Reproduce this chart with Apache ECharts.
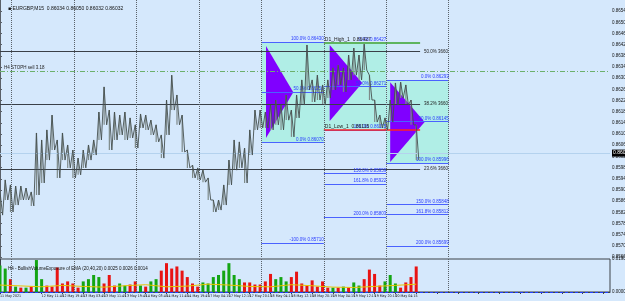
<!DOCTYPE html>
<html>
<head>
<meta charset="utf-8">
<script src="https://cdn.jsdelivr.net/npm/echarts@6/dist/echarts.min.js"></script>
<style>
html, body { margin: 0; padding: 0; background: #d5e8fc; }
#chart { width: 625px; height: 301px; }
</style>
</head>
<body>
<div id="chart"></div>
<script>
// price, one high/low pair every 8 bars (M15), bar index = sample * 8
const barStep = 8
const highs = [0.85893,0.85936,0.85918,0.85914,0.85914,0.85907,0.85893,0.86104,0.86079,0.86115,
    0.86168,0.86079,0.86104,0.86061,0.86043,0.86014,0.86043,0.86061,0.86079,0.86179,
    0.86269,0.86186,0.86179,0.86168,0.86179,0.86158,0.86133,0.86172,0.86168,0.86150,
    0.86133,0.86097,0.86222,0.86311,0.86240,0.86168,0.86043,0.85989,0.85979,0.85971,
    0.85943,0.85864,0.85864,0.85918,0.86007,0.86079,0.86072,0.86050,0.86115,0.86186,
    0.86186,0.86179,0.86204,0.86222,0.86204,0.86240,0.86186,0.86240,0.86294,0.86419,
    0.86294,0.86311,0.86276,0.86294,0.86337,0.86347,0.86337,0.86383,0.86408,0.86383,
    0.86422,0.86311,0.86222,0.86168,0.86158,0.86222,0.86283,0.86286,0.86276,0.86222,
    0.86133]
const lows = [0.85810,0.85864,0.85821,0.85846,0.85864,0.85864,0.85843,0.85882,0.85925,0.86007,
    0.86043,0.85943,0.86007,0.85979,0.85943,0.85954,0.85979,0.86007,0.86025,0.86079,
    0.86133,0.86043,0.86079,0.86097,0.86079,0.86086,0.86050,0.86122,0.86115,0.86097,
    0.86072,0.86014,0.86097,0.86186,0.86133,0.86036,0.85979,0.85943,0.85936,0.85928,
    0.85864,0.85821,0.85828,0.85846,0.85918,0.85971,0.85979,0.85925,0.86025,0.86115,
    0.86122,0.86122,0.86115,0.86133,0.86115,0.86150,0.86090,0.86158,0.86204,0.86258,
    0.86215,0.86222,0.86204,0.86229,0.86258,0.86276,0.86251,0.86294,0.86311,0.86294,
    0.86329,0.86222,0.86143,0.86122,0.86115,0.86143,0.86204,0.86229,0.86204,0.86133,
    0.86007]
const lastPrice = 0.86032

// sub window: signed exposure (+ buy / - sell), same sampling as price
const flow = [0.0153,0.0135,-0.0074,0.0031,-0.0025,0.0025,-0.0031,0.0184,0.0074,-0.0037,
    -0.0031,-0.0141,-0.0049,-0.0061,-0.0049,-0.0025,0.0061,0.0074,0.0098,0.0086,
    -0.0049,-0.0098,-0.0037,0.0049,0.0037,-0.0043,-0.0061,0.0037,-0.0031,0.0061,
    0.0074,-0.0123,-0.0166,-0.0135,-0.0147,-0.0123,-0.0086,-0.0049,-0.0031,0.0055,
    0.0049,0.0086,0.0098,0.0123,0.0166,0.0098,0.0074,-0.0055,-0.0055,-0.0043,
    -0.0043,-0.0061,-0.0104,0.0074,0.0086,0.0061,-0.0086,-0.0117,-0.0049,-0.0037,
    -0.0067,-0.0031,-0.0061,-0.0025,0.0025,-0.0025,0.0031,-0.0025,0.0055,0.0037,
    -0.0074,-0.0129,-0.0104,-0.0037,0.0061,0.0098,0.0049,-0.0025,-0.0055,-0.0086,
    -0.0147]
const signal = [0.0040,0.0035,0.0030,0.0038,0.0032,0.0028,0.0036,0.0042,0.0030,0.0034,
    0.0045,0.0040,0.0032,0.0030,0.0042,0.0036,0.0028,0.0026,0.0032,0.0038,0.0045]
const signalStep = 32
const exposureLevel = 0.0025

// time axis, a label every 32 bars
const timeLabels = ['11 May 2021','12 May 03:45','12 May 11:45','12 May 19:45','13 May 03:45',
    '13 May 11:45','13 May 19:45','14 May 03:45','14 May 11:45','14 May 19:45','17 May 04:15',
    '17 May 12:15','17 May 20:15','18 May 04:15','18 May 12:15','18 May 20:15','19 May 04:15',
    '19 May 12:15','19 May 20:15','20 May 04:15']
const daySeparators = [18, 114, 210, 306, 402, 498, 594, 690]

// drawn objects: boxes [x0, top, x1, bottom], triangles [x, top, bottom, apexX, apexY]
const boxes = [[402, 0.86430, 498, 0.86070], [498, 0.86427, 594, 0.86115], [594, 0.86293, 690, 0.85996]]
const triangles = [[409, 0.86415, 0.86086, 451, 0.86250], [507, 0.86419, 0.86147, 557, 0.86283],
    [600, 0.86286, 0.86000, 653, 0.86143]]
const fibA = [0.86430, 0.86250, 0.86070, 0.85710]
const fibAPct = ['100.0%', '50.0%', '0.0%', '-100.0%']
const fibB = [0.86427, 0.86271, 0.86115, 0.85959, 0.85922, 0.85803]
const fibBPct = ['0.0%', '50.0%', '100.0%', '150.0%', '161.8%', '200.0%']
const fibC = [0.86293, 0.86145, 0.85996, 0.85848, 0.85812, 0.85699]
const fibCPct = ['0.0%', '50.0%', '100.0%', '150.0%', '161.8%', '200.0%']
const bigFib = [0.86583, 0.86395, 0.86207, 0.85975]
const bigFibText = ['61.8% 3660', '50.0% 3660', '38.2% 3660', '23.6% 3660']
const d1High = 0.86427
const d1Low = 0.86115
const stopLevel = 0.86326

const font = 'Liberation Sans'
const chart = echarts.init(document.getElementById('chart'))

const priceLine = []
highs.forEach((h, i) => {
    priceLine.push([i * barStep, h])
    priceLine.push([i * barStep + barStep / 2, lows[i]])
})
const priceRanges = highs.map((h, i) => [i * barStep, h, lows[i]])

const seg = (x0, x1, y, color, width, label, type) => [
    { coord: [x0, y], lineStyle: { color: color, width: width, type: type || 'solid' }, label: label || { show: false } },
    { coord: [x1, y] }
]
const blueLabel = (text) => ({
    show: true, formatter: text, position: 'insideEndTop', distance: [0, 0.5],
    color: '#2a3cff', fontSize: 4.5, fontFamily: font
})

const levelLines = []
const addFib = (x0, x1, prices, pcts) => prices.forEach((p, i) => {
    levelLines.push(seg(x0, x1, p, '#4a62ff', 1, blueLabel(pcts[i] + ' ' + p.toFixed(5))))
})
addFib(402, 498, fibA, fibAPct)
addFib(498, 594, fibB, fibBPct)
addFib(594, 690, fibC, fibCPct)
bigFib.forEach((p, i) => {
    levelLines.push(seg(0, 646, p, '#3a4048', 1, {
        show: true, formatter: bigFibText[i], position: 'end', distance: 4,
        color: '#222', fontSize: 4.5, fontFamily: font
    }))
})
levelLines.push(seg(498, 646, d1High, '#5fb55f', 2, {
    show: true, formatter: 'D1_High_1  0.86427', position: 'insideStartTop', distance: [1, 1],
    color: '#222', fontSize: 5, fontFamily: font
}))
levelLines.push(seg(498, 646, d1Low, '#ff2222', 1.5, {
    show: true, formatter: 'D1_Low_1  0.86115', position: 'insideStartTop', distance: [1, 1],
    color: '#222', fontSize: 5, fontFamily: font
}))
levelLines.push(seg(0, 938, stopLevel, '#6cb06c', 1, {
    show: true, formatter: 'H4 STOPH sell 3.18', position: 'insideStartTop', distance: [4, 1],
    color: '#222', fontSize: 4.5, fontFamily: font
}, [5, 2, 1, 2]))
levelLines.push(seg(0, 938, lastPrice, '#b4d2ee', 1, {
    show: true, formatter: lastPrice.toFixed(5), position: 'end', distance: 2,
    color: '#fff', backgroundColor: '#000', padding: [1, 1], fontSize: 5, fontFamily: font
}))

const sepLines = (color) => daySeparators.map(x => ({ xAxis: x, lineStyle: { color: color, type: [1, 1], width: 1 } }))

const option = {
    animation: false,
    backgroundColor: '#d5e8fc',
    title: [
        { text: '■ EURGBP,M15  0.86034 0.86050 0.86032 0.86032', left: 3, top: 1,
          textStyle: { fontSize: 5, fontWeight: 'normal', color: '#111', fontFamily: font } },
        { text: 'H4 - BullishVolumeExposure of EMA (20,40,20) 0.0025 0.0026 0.0014', left: 3, top: 261,
          textStyle: { fontSize: 4.5, fontWeight: 'normal', color: '#111', fontFamily: font } }
    ],
    grid: [
        { left: 0, right: 15, top: 0, bottom: 44, outerBoundsMode: 'none', containLabel: false },
        { left: 0, right: 15, top: 259, bottom: 9, show: true, borderColor: '#3c4248', borderWidth: 1,
          outerBoundsMode: 'none', containLabel: false }
    ],
    xAxis: [
        { type: 'value', gridIndex: 0, min: 0, max: 938, show: false },
        { type: 'value', gridIndex: 1, min: 0, max: 938, interval: 32,
          axisLine: { show: true, lineStyle: { color: '#3c4248' } },
          axisTick: { show: true, length: 2, lineStyle: { color: '#3c4248' } },
          splitLine: { show: false },
          axisLabel: { show: true, showMinLabel: true, showMaxLabel: false, hideOverlap: false, align: 'left', margin: 2,
              fontSize: 3.6, color: '#111', fontFamily: 'DejaVu Sans Condensed',
              formatter: (v) => timeLabels[Math.round(v / 32)] || '' } }
    ],
    yAxis: [
        { type: 'value', gridIndex: 0, position: 'right', min: 0.8566, max: 0.8658, interval: 0.0004,
          axisLine: { show: true, lineStyle: { color: '#5a6068' } },
          axisTick: { show: true, length: 2, lineStyle: { color: '#5a6068' } },
          splitLine: { show: false },
          axisLabel: { showMaxLabel: false, margin: 2, fontSize: 4.5, color: '#111', fontFamily: font,
              formatter: (v) => v.toFixed(5) } },
        { type: 'value', gridIndex: 1, position: 'right', min: 0, max: 0.019, interval: 0.019,
          axisLine: { show: true, lineStyle: { color: '#3c4248' } },
          axisTick: { show: false }, splitLine: { show: false },
          axisLabel: { margin: 2, fontSize: 4.5, color: '#111', fontFamily: font,
              formatter: (v) => v.toFixed(4) } }
    ],
    series: [
        {
            name: 'boxes', type: 'custom', xAxisIndex: 0, yAxisIndex: 0, z: 1, silent: true,
            data: boxes, encode: { x: [0, 2], y: [1, 3] },
            renderItem: (params, api) => {
                const p0 = api.coord([api.value(0), api.value(1)])
                const p1 = api.coord([api.value(2), api.value(3)])
                return { type: 'rect', shape: { x: p0[0], y: p0[1], width: p1[0] - p0[0], height: p1[1] - p0[1] },
                    style: { fill: '#b0eee6' } }
            }
        },
        {
            name: 'triangles', type: 'custom', xAxisIndex: 0, yAxisIndex: 0, z: 2, silent: true,
            data: triangles, encode: { x: [0, 3], y: [1, 2, 4] },
            renderItem: (params, api) => {
                const a = api.coord([api.value(0), api.value(1)])
                const b = api.coord([api.value(3), api.value(4)])
                const c = api.coord([api.value(0), api.value(2)])
                return { type: 'polygon', shape: { points: [a, b, c] }, style: { fill: '#8000ff' } }
            }
        },
        {
            name: 'levels', type: 'line', xAxisIndex: 0, yAxisIndex: 0, data: [], z: 3,
            markLine: { silent: true, symbol: 'none', animation: false, data: levelLines }
        },
        {
            name: 'ranges', type: 'custom', xAxisIndex: 0, yAxisIndex: 0, z: 4, silent: true,
            data: priceRanges, encode: { x: 0, y: [1, 2] },
            renderItem: (params, api) => {
                const top = api.coord([api.value(0), api.value(1)])
                const bot = api.coord([api.value(0), api.value(2)])
                return { type: 'rect', shape: { x: top[0] - 0.5, y: top[1], width: 1.2, height: bot[1] - top[1] },
                    style: { fill: '#7e8a89' } }
            }
        },
        {
            name: 'EURGBP', type: 'line', xAxisIndex: 0, yAxisIndex: 0, z: 5,
            data: priceLine, symbol: 'none', lineStyle: { color: '#46504f', width: 0.9 },
            markLine: { silent: true, symbol: 'none', animation: false, label: { show: false }, data: sepLines('#5a626a') }
        },
        {
            name: 'buy', type: 'bar', xAxisIndex: 1, yAxisIndex: 1, barWidth: 3, barGap: '-100%',
            data: flow.map((v, i) => [i * barStep, v > 0 ? v : 0]),
            itemStyle: { color: '#14a514' },
            markLine: { silent: true, symbol: 'none', animation: false, label: { show: false },
                data: sepLines('#5a626a').concat([{ yAxis: exposureLevel, lineStyle: { color: '#2040ff', type: [3, 2], width: 1 } }]) }
        },
        {
            name: 'sell', type: 'bar', xAxisIndex: 1, yAxisIndex: 1, barWidth: 3, barGap: '-100%',
            data: flow.map((v, i) => [i * barStep, v < 0 ? -v : 0]),
            itemStyle: { color: '#e81414' }
        },
        {
            name: 'signal', type: 'line', xAxisIndex: 1, yAxisIndex: 1, symbol: 'none', z: 5,
            data: signal.map((v, i) => [i * signalStep, v]),
            lineStyle: { color: '#e8c400', width: 1 }
        }
    ]
}
chart.setOption(option)
</script>
</body>
</html>
